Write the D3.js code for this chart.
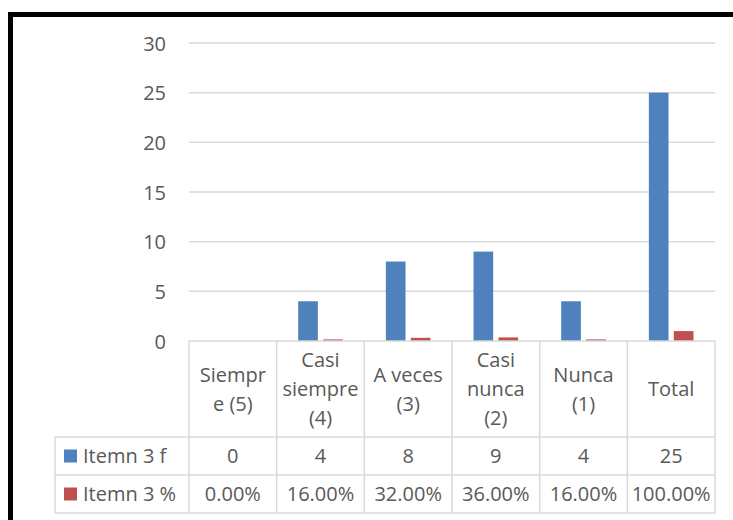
<!DOCTYPE html>
<html>
<head>
<meta charset="utf-8">
<script src="https://cdn.jsdelivr.net/npm/d3@7"></script>
<style>
  html, body { margin: 0; padding: 0; background: #ffffff; }
  svg { display: block; }
  text { font-family: "Open Sans", Lato, sans-serif; fill: #595959; }
</style>
</head>
<body>
<svg id="chart" width="733" height="520"></svg>
<script>
// Categories (with the line breaks used in the data table header)
const categories = ["Siempre (5)", "Casi siempre (4)", "A veces (3)", "Casi nunca (2)", "Nunca (1)", "Total"];
const categoryLines = [["Siempr", "e (5)"], ["Casi", "siempre", "(4)"], ["A veces", "(3)"], ["Casi", "nunca", "(2)"], ["Nunca", "(1)"], ["Total"]];

// Series
const seriesNames = ["Itemn 3 f", "Itemn 3 %"];
const freqValues = [0, 4, 8, 9, 4, 25];
const pctValues = [0, 0.16, 0.32, 0.36, 0.16, 1.0];
const seriesColors = ["#4f81bd", "#c0504d"];

// Value axis ticks
const yTicks = [0, 5, 10, 15, 20, 25, 30];

const svg = d3.select("#chart");
const gridColor = "#d9d9d9";
const fontFamily = "'Open Sans', Lato, sans-serif";
const fontSize = 20;

// Plot geometry
const plotLeft = 189, plotRight = 715, plotTop = 43, plotBottom = 341;
const headerBottom = 437, rowH = 38, legendLeft = 55;

const x = d3.scaleBand().domain(categories).range([plotLeft, plotRight]).padding(0);
const y = d3.scaleLinear().domain([0, 30]).range([plotBottom, plotTop]);

// Two bars per category, gap 27% of a bar, outer gaps 219% of a bar in total
const xs = d3.scaleBand().domain(seriesNames).range([0, x.bandwidth()])
  .paddingInner(0.27 / 1.27).paddingOuter((4.46 / 1.27 - 2 + 0.27 / 1.27) / 2);

// Gridlines
svg.append("g").selectAll("line").data(yTicks.filter(t => t > 0)).join("line")
  .attr("x1", plotLeft).attr("x2", plotRight)
  .attr("y1", d => y(d)).attr("y2", d => y(d))
  .attr("stroke", gridColor).attr("stroke-width", 1.5);

// Value axis labels
const yAxis = d3.axisLeft(y).tickValues(yTicks).tickSize(0).tickPadding(0);
const gy = svg.append("g").attr("transform", "translate(166,0)").call(yAxis);
gy.select(".domain").remove();
gy.selectAll("text").attr("font-size", fontSize).style("font-family", fontFamily)
  .attr("fill", "#595959").attr("dy", "0.36em");

// Bars
const series = [freqValues, pctValues];
series.forEach((vals, si) => {
  svg.append("g").selectAll("rect").data(vals).join("rect")
    .attr("x", (d, i) => x(categories[i]) + xs(seriesNames[si]))
    .attr("width", xs.bandwidth())
    .attr("y", d => y(d))
    .attr("height", d => y(0) - y(d))
    .attr("fill", seriesColors[si]);
});

// Data table grid
const tbl = svg.append("g").attr("stroke", gridColor).attr("stroke-width", 1.5);
tbl.append("line").attr("x1", plotLeft).attr("x2", plotRight).attr("y1", plotBottom).attr("y2", plotBottom);
[headerBottom, headerBottom + rowH, headerBottom + 2 * rowH].forEach(yy => {
  tbl.append("line").attr("x1", legendLeft).attr("x2", plotRight).attr("y1", yy).attr("y2", yy);
});
tbl.append("line").attr("x1", legendLeft).attr("x2", legendLeft).attr("y1", headerBottom).attr("y2", headerBottom + 2 * rowH);
const bounds = categories.map(c => x(c)).concat([plotRight]);
bounds.forEach(bx => {
  tbl.append("line").attr("x1", bx).attr("x2", bx).attr("y1", plotBottom).attr("y2", headerBottom + 2 * rowH);
});

// Header labels
const headerMid = (plotBottom + headerBottom) / 2;
const lineH = 29;
categoryLines.forEach((lines, i) => {
  const cx = x(categories[i]) + x.bandwidth() / 2;
  const t = svg.append("text").attr("text-anchor", "middle").attr("font-size", fontSize);
  lines.forEach((ln, j) => {
    t.append("tspan").attr("x", cx)
      .attr("y", headerMid + (j - (lines.length - 1) / 2) * lineH)
      .attr("dy", "0.36em").text(ln);
  });
});

// Table rows
const fmtPct = d3.format(".2%");
const rowFormats = [d3.format("d"), fmtPct];
series.forEach((vals, si) => {
  const cy = headerBottom + rowH * si + rowH / 2;
  svg.append("rect").attr("x", 64).attr("y", cy - 6.5).attr("width", 13).attr("height", 13)
    .attr("fill", seriesColors[si]);
  svg.append("text").attr("x", 83).attr("y", cy).attr("dy", "0.36em").attr("font-size", fontSize)
    .text(seriesNames[si]);
  svg.append("g").selectAll("text").data(vals).join("text")
    .attr("x", (d, i) => x(categories[i]) + x.bandwidth() / 2)
    .attr("y", cy).attr("dy", "0.36em").attr("text-anchor", "middle").attr("font-size", fontSize)
    .text(d => rowFormats[si](d));
});

// Outer frame
svg.append("rect").attr("x", 10.5).attr("y", 14.5).attr("width", 900).attr("height", 700)
  .attr("fill", "none").attr("stroke", "#000").attr("stroke-width", 5);
</script>
</body>
</html>
